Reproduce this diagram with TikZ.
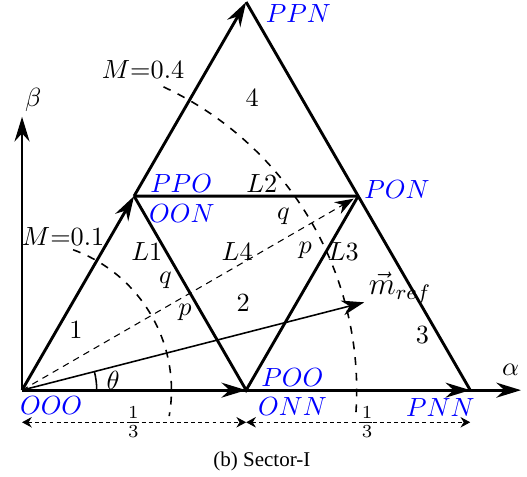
\documentclass[tikz,border=0pt]{standalone}
\usepackage[no-math]{fontspec}
\newfontfamily\capfont{Liberation Serif}
\usepackage{xcolor}
\usepackage{tikz}
\usetikzlibrary{arrows.meta,positioning}

\begin{document}
\begin{tikzpicture}[
  edge/.style={line width=1.1pt},
  arr/.style={edge,-{Stealth[length=3.3mm,width=2mm]}},
  vec/.style={semithick,-{Stealth[length=3mm,width=2mm]}},
  dsh/.style={thin,dash pattern=on 2.5pt off 2pt},
  arcd/.style={semithick,dashed},
  dim/.style={thin,dash pattern=on 1.5pt off 1.2pt,{Stealth[length=1.3mm,width=1.4mm]}-{Stealth[length=1.3mm,width=1.4mm]}},
  vl/.style={text=blue,inner sep=1pt},
  lab/.style={inner sep=1pt}]
\useasboundingbox (-0.295,-1.152) rectangle (6.76,5.223);
\coordinate (o) at (0,0);
\coordinate (poo) at (3,0);
\coordinate (pnn) at (6,0);
\coordinate (ppo) at (60:3);
\coordinate (ppn) at (60:6);
\coordinate (pon) at (4.5,2.598);
\coordinate (ya) at (0,3.66);
\coordinate (xa) at (6.68,0);
\coordinate (mref) at (14.4:4.73);
\coordinate (d0) at (0,-0.43);
\coordinate (d1) at (3,-0.43);
\coordinate (d2) at (6,-0.43);
\draw[dsh,-{Stealth[length=2.5mm,width=1.8mm]},shorten >=2pt] (o)--(pon);
\draw[arcd] (o) ++(70:2) arc[start angle=70,end angle=-10,radius=2];
\draw[arcd] (o) ++(65:4.48) arc[start angle=65,end angle=-4.5,radius=4.48];
\draw[semithick] (o) ++(1,0) arc[start angle=0,end angle=14.4,radius=1];
\draw[vec] (o)--(mref);
\draw[arr] (o)--(ya); \draw[arr] (o)--(xa);
\draw[arr] (o)--(poo); \draw[arr] (poo)--(pnn);
\draw[arr] (o)--(ppo); \draw[arr] (ppo)--(ppn);
\draw[edge] (ppn)--(pnn); \draw[edge] (ppo)--(pon);
\draw[edge] (ppo)--(poo)--(pon);
\draw[dim] (d0)--(d1); \draw[dim] (d1)--(d2);
\node[lab] (b) at (0.15,3.88) {$\beta$};
\node[lab] (a) at (6.54,0.27) {$\alpha$};
\node[vl] (looo) at (0.39,-0.20) {$OOO$};
\node[vl] (lpoo) at (3.62,0.17) {$POO$};
\node[vl,below=2pt of lpoo] (lonn) {$ONN$};
\node[vl] (lpnn) at (5.60,-0.23) {$PNN$};
\node[vl] (lppn) at (3.70,5.04) {$PPN$};
\node[vl] (lppo) at (2.13,2.77) {$PPO$};
\node[vl] (loon) at (2.14,2.37) {$OON$};
\node[vl] (lpon) at (5.02,2.69) {$PON$};
\node[lab] (m4) at (1.62,4.29) {$M{=}0.4$};
\node[lab] (m1) at (0.55,2.05) {$M{=}0.1$};
\node[lab] (s1) at (0.72,0.80) {$1$};
\node[lab] (s2) at (2.96,1.17) {$2$};
\node[lab] (s3) at (5.36,0.74) {$3$};
\node[lab] (s4) at (3.08,3.91) {$4$};
\node[lab] (l1) at (1.67,1.85) {$L1$};
\node[lab] (l2) at (3.21,2.77) {$L2$};
\node[lab] (l3) at (4.30,1.85) {$L3$};
\node[lab] (l4) at (2.88,1.85) {$L4$};
\node[lab] (th) at (1.22,0.13) {$\theta$};
\node[lab] (q1) at (1.92,1.47) {$q$};
\node[lab] (p1) at (2.18,1.04) {$p$};
\node[lab] (q2) at (3.50,2.32) {$q$};
\node[lab] (p2) at (3.79,1.87) {$p$};
\node[lab,font=\large] (lm) at (5.06,1.37) {$\vec{m}_{ref}$};
\node[lab] (f1) at (1.49,-0.43) {$\frac{1}{3}$};
\node[lab] (f2) at (4.62,-0.43) {$\frac{1}{3}$};
\node[font=\capfont\footnotesize] (cap) at (3.21,-0.96) {(b) Sector-I};
\end{tikzpicture}
\end{document}
